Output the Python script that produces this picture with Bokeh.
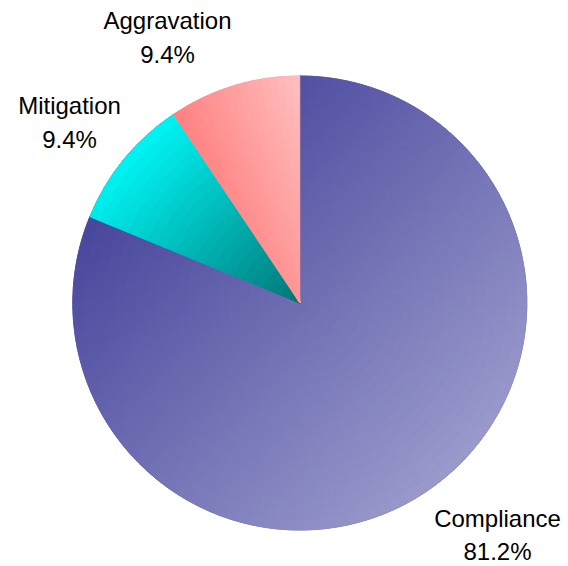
import math
from bokeh.plotting import figure
from bokeh.models import Range1d
from bokeh.core.properties import value
from bokeh.embed import file_html
from bokeh.resources import INLINE

# ---- data ----
categories = ["Compliance", "Mitigation", "Aggravation"]
percentages = [81.2, 9.4, 9.4]
pct_labels = ["81.2%", "9.4%", "9.4%"]

# ---- style / layout ----
W, H = 568, 566
CX, CY = 299.3, H - 302.5
R = 227.0
# gradient (start rgb, end rgb, direction in data coords)
grad = {
    "Compliance": ((72, 70, 156), (154, 154, 204), (1.0, -1.0)),
    "Mitigation": ((0, 245, 245), (0, 118, 118), (1.0, -1.0)),
    "Aggravation": ((255, 128, 128), (255, 192, 192), (1.0, 0.4)),
}
# label positions (screen px: text centre x, vertical middle of first line y)
label_pos = {
    "Compliance": (497, 518),
    "Mitigation": (69, 105),
    "Aggravation": (167, 20),
}
LINE_GAP = {"Compliance": 33, "Mitigation": 34, "Aggravation": 34}
FONT = "Liberation Sans"


def hexc(c):
    return "#%02x%02x%02x" % tuple(int(round(v)) for v in c)


def lerp(c0, c1, t):
    t = min(max(t, 0.0), 1.0)
    return tuple(a + (b - a) * t for a, b in zip(c0, c1))


p = figure(width=W, height=H, x_range=Range1d(0, W), y_range=Range1d(0, H),
           output_backend="svg", toolbar_location=None, min_border=0)
p.axis.visible = False
p.grid.visible = False
p.outline_line_color = None
p.background_fill_color = "white"
p.border_fill_color = "white"

total = sum(percentages)
start = math.pi / 2  # 12 o'clock, clockwise
slices = []
for cat, v in zip(categories, percentages):
    sweep = v / total * 2 * math.pi
    a_hi = start
    a_lo = start - sweep
    slices.append((cat, a_lo, a_hi))
    start = a_lo

# base wedges (mid-colour), straight from data
base = dict(x=[], y=[], s=[], e=[], c=[])
for cat, a_lo, a_hi in slices:
    c0, c1, _ = grad[cat]
    base["x"].append(CX); base["y"].append(CY)
    base["s"].append(a_lo); base["e"].append(a_hi)
    base["c"].append(hexc(lerp(c0, c1, 0.5)))
p.wedge(x="x", y="y", radius=R, start_angle="s", end_angle="e",
        fill_color="c", line_color="c", source=base)

# gradient overlay: subdivide each slice into small annular wedges
pieces = dict(x=[], y=[], ir=[], orr=[], s=[], e=[], c=[])
NR = 22
for cat, a_lo, a_hi in slices:
    c0, c1, (dx, dy) = grad[cat]
    n = math.hypot(dx, dy); dx /= n; dy /= n
    pts = [(0.0, 0.0)]
    k = 200
    for i in range(k + 1):
        a = a_lo + (a_hi - a_lo) * i / k
        pts.append((R * math.cos(a), R * math.sin(a)))
    projs = [px * dx + py * dy for px, py in pts]
    pmin, pmax = min(projs), max(projs)
    na = max(2, int(math.ceil((a_hi - a_lo) / math.radians(2.0))))
    for i in range(na):
        s = a_lo + (a_hi - a_lo) * i / na
        e = a_lo + (a_hi - a_lo) * (i + 1) / na
        am = (s + e) / 2
        for j in range(NR):
            r0 = R * j / NR
            r1 = R * (j + 1) / NR
            rm = (r0 + r1) / 2
            pr = rm * math.cos(am) * dx + rm * math.sin(am) * dy
            t = (pr - pmin) / (pmax - pmin)
            pieces["x"].append(CX); pieces["y"].append(CY)
            pieces["ir"].append(r0); pieces["orr"].append(r1)
            pieces["s"].append(s); pieces["e"].append(e)
            pieces["c"].append(hexc(lerp(c0, c1, t)))
p.annular_wedge(x="x", y="y", inner_radius="ir", outer_radius="orr",
                start_angle="s", end_angle="e", fill_color="c",
                line_color="c", line_width=0.8, source=pieces)

# labels
lx, ly, lt = [], [], []
for cat, pl in zip(categories, pct_labels):
    x, m = label_pos[cat]
    lx += [x, x]
    ly += [H - m, H - m - LINE_GAP[cat]]
    lt += [cat, pl]
p.text(x=lx, y=ly, text=lt, text_align="center", text_baseline="middle",
       text_font=value(FONT), text_font_size="24px", text_color="#000000")

open("out.html", "w").write(file_html(p, INLINE))
